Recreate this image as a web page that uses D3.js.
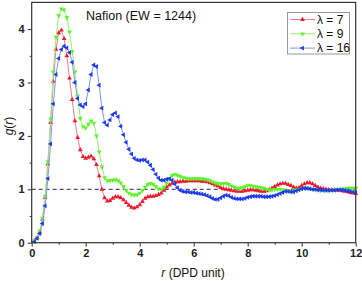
<!DOCTYPE html>
<html><head><meta charset="utf-8">
<script src="https://cdn.jsdelivr.net/npm/d3@7"></script>
<style>body{margin:0;background:#fff}svg{display:block}text{font-family:"Liberation Sans",Arial,sans-serif}</style>
</head><body>
<script>
const rValues = [0.1,0.2,0.3,0.4,0.5,0.6,0.7,0.8,0.9,1.0,1.1,1.2,1.3,1.4,1.5,1.6,1.7,1.8,1.9,2.0,
2.1,2.2,2.3,2.4,2.5,2.6,2.7,2.8,2.9,3.0,3.1,3.2,3.3,3.4,3.5,3.6,3.7,3.8,3.9,4.0,
4.1,4.2,4.3,4.4,4.5,4.6,4.7,4.8,4.9,5.0,5.1,5.2,5.3,5.4,5.5,5.6,5.7,5.8,5.9,6.0,
6.1,6.2,6.3,6.4,6.5,6.6,6.7,6.8,6.9,7.0,7.1,7.2,7.3,7.4,7.5,7.6,7.7,7.8,7.9,8.0,
8.1,8.2,8.3,8.4,8.5,8.6,8.7,8.8,8.9,9.0,9.1,9.2,9.3,9.4,9.5,9.6,9.7,9.8,9.9,10.0,
10.1,10.2,10.3,10.4,10.5,10.6,10.7,10.8,10.9,11.0,11.1,11.2,11.3,11.4,11.5,11.6,11.7,11.8,11.9,12.0];

const gLambda7 = [0.03,0.09,0.2,0.44,0.85,1.47,2.25,3.02,3.62,3.93,3.98,3.82,3.5,3.08,2.68,2.28,1.97,1.74,1.61,1.58,
1.6,1.62,1.57,1.46,1.25,1.0,0.84,0.78,0.79,0.83,0.86,0.86,0.84,0.8,0.75,0.7,0.66,0.65,0.67,0.71,
0.77,0.83,0.86,0.87,0.87,0.88,0.9,0.93,0.98,1.04,1.08,1.11,1.13,1.14,1.14,1.15,1.15,1.16,1.16,1.16,
1.16,1.16,1.15,1.15,1.14,1.12,1.1,1.08,1.06,1.03,1.01,1.0,0.99,0.98,0.97,0.96,0.96,0.96,0.97,0.98,
0.99,0.99,0.98,0.97,0.96,0.96,0.97,0.99,1.02,1.05,1.08,1.1,1.11,1.11,1.09,1.07,1.04,1.02,1.03,1.07,
1.1,1.12,1.12,1.1,1.07,1.04,1.02,1.01,1.0,0.99,0.99,0.99,0.98,0.98,0.97,0.96,0.95,0.94,0.93,0.92];

const gLambda9 = [0.03,0.1,0.22,0.46,0.87,1.52,2.32,3.2,3.85,4.25,4.38,4.36,4.22,3.95,3.58,3.2,2.75,2.33,2.17,2.15,
2.22,2.28,2.24,2.0,1.7,1.42,1.22,1.16,1.16,1.17,1.18,1.16,1.12,1.05,0.98,0.93,0.9,0.89,0.9,0.93,
0.98,1.04,1.09,1.11,1.09,1.05,1.01,1.0,1.04,1.12,1.2,1.26,1.28,1.26,1.24,1.22,1.21,1.2,1.2,1.2,
1.2,1.2,1.2,1.19,1.18,1.16,1.14,1.12,1.11,1.1,1.11,1.11,1.09,1.06,1.04,1.02,1.02,1.03,1.05,1.07,
1.07,1.06,1.05,1.04,1.03,1.02,1.0,0.99,0.99,1.0,1.0,1.0,0.99,0.98,0.97,0.96,0.97,0.99,1.0,1.01,
1.02,1.02,1.01,1.0,0.99,0.98,0.98,0.98,0.98,0.98,0.99,1.0,1.0,1.0,1.01,1.01,1.02,1.02,1.02,1.02];

const gLambda16 = [0.02,0.08,0.17,0.36,0.69,1.2,1.85,2.6,3.15,3.45,3.62,3.68,3.65,3.56,3.38,3.0,2.7,2.58,2.55,2.6,
2.86,3.15,3.33,3.3,2.95,2.52,2.25,2.2,2.3,2.4,2.43,2.36,2.18,2.02,1.88,1.75,1.66,1.58,1.55,1.54,
1.55,1.55,1.51,1.45,1.37,1.28,1.21,1.17,1.17,1.19,1.2,1.17,1.1,1.03,0.98,0.96,0.95,0.95,0.94,0.94,
0.93,0.92,0.91,0.9,0.88,0.86,0.83,0.81,0.81,0.84,0.87,0.89,0.88,0.85,0.83,0.82,0.82,0.82,0.83,0.85,
0.86,0.87,0.87,0.87,0.87,0.86,0.86,0.86,0.87,0.88,0.9,0.92,0.94,0.96,0.96,0.95,0.95,0.97,0.99,1.01,
1.02,1.02,1.01,1.0,1.0,0.99,0.99,0.98,0.98,0.98,0.98,0.98,0.99,0.99,0.99,0.98,0.97,0.96,0.95,0.94];

const seriesNames = ["λ = 7", "λ = 9", "λ = 16"];
const xTicks = [0, 2, 4, 6, 8, 10, 12];
const yTicks = [0, 1, 2, 3, 4];
const titleText = "Nafion (EW = 1244)";

const W = 362, H = 281;
const mLeft = 31.7, mRight = 355.7, mTop = 2.4, mBottom = 242.7;
const svg = d3.select("body").append("svg").attr("width", W).attr("height", H);

const x = d3.scaleLinear().domain([0, 12]).range([mLeft, mRight]);
const y = d3.scaleLinear().domain([0, 4.5]).range([mBottom, mTop]);

const styles = [
  {marker: "#ee1b2c", line: "#f07a92", rot: 0},
  {marker: "#5cf52a", line: "#96ee74", rot: 180},
  {marker: "#1f3af0", line: "#8595f0", rot: -90}
];
const allSeries = [gLambda7, gLambda9, gLambda16];

// dashed reference line at g = 1
svg.append("line").attr("x1", x(0)).attr("x2", x(12)).attr("y1", y(1)).attr("y2", y(1))
  .attr("stroke", "#1d2a5a").attr("stroke-width", 1).attr("stroke-dasharray", "4,3");

const tri = d3.symbol().type(d3.symbolTriangle).size(10);
const lineGen = d3.line().x((d, i) => x(rValues[i])).y(d => y(d));

allSeries.forEach((vals, k) => {
  const st = styles[k];
  const g = svg.append("g");
  g.append("path").attr("d", lineGen(vals)).attr("fill", "none")
    .attr("stroke", st.line).attr("stroke-width", 1);
  g.selectAll("path.m").data(vals).join("path").attr("class", "m")
    .attr("d", tri)
    .attr("transform", (d, i) => `translate(${x(rValues[i])},${y(d)}) rotate(${st.rot})`)
    .attr("fill", st.marker);
});

// axes frame
svg.append("rect").attr("x", mLeft).attr("y", mTop).attr("width", mRight - mLeft).attr("height", mBottom - mTop)
  .attr("fill", "none").attr("stroke", "#333").attr("stroke-width", 1.2);

const xAxis = d3.axisBottom(x).tickValues(xTicks).tickSize(4).tickPadding(3).tickFormat(d3.format("d"));
const xMinor = d3.axisBottom(x).tickValues([1,3,5,7,9,11]).tickSize(2).tickFormat("");
const yAxis = d3.axisLeft(y).tickValues(yTicks).tickSize(4).tickPadding(3).tickFormat(d3.format("d"));
const yMinor = d3.axisLeft(y).tickValues([0.5,1.5,2.5,3.5]).tickSize(2).tickFormat("");

function styleAxis(sel) {
  sel.select(".domain").remove();
  sel.selectAll("line").attr("stroke", "#333");
  sel.selectAll("text").attr("font-size", 11).attr("font-weight", "bold").attr("fill", "#222")
    .attr("font-family", "Liberation Sans, Arial, sans-serif");
}
svg.append("g").attr("transform", `translate(0,${mBottom})`).call(xAxis).call(styleAxis);
svg.append("g").attr("transform", `translate(0,${mBottom})`).call(xMinor).call(styleAxis);
svg.append("g").attr("transform", `translate(${mLeft},0)`).call(yAxis).call(styleAxis);
svg.append("g").attr("transform", `translate(${mLeft},0)`).call(yMinor).call(styleAxis);

// title
svg.append("text").attr("x", 86).attr("y", 20).attr("font-size", 12.5).attr("fill", "#111").text(titleText);

// axis labels
const xl = svg.append("text").attr("x", 193).attr("y", 277).attr("text-anchor", "middle")
  .attr("font-size", 12).attr("fill", "#111");
xl.append("tspan").attr("font-style", "italic").text("r");
xl.append("tspan").text(" (DPD unit)");

const yl = svg.append("text").attr("transform", "translate(13,126) rotate(-90)").attr("text-anchor", "middle")
  .attr("font-size", 12).attr("fill", "#111");
yl.append("tspan").attr("font-style", "italic").text("g");
yl.append("tspan").text("(");
yl.append("tspan").attr("font-style", "italic").text("r");
yl.append("tspan").text(")");

// legend
const lg = svg.append("g");
lg.append("rect").attr("x", 287.5).attr("y", 12.5).attr("width", 62).attr("height", 41.5)
  .attr("fill", "#fff").attr("stroke", "#999").attr("stroke-width", 1);
seriesNames.forEach((name, k) => {
  const st = styles[k];
  const yy = 19.5 + k * 14.3;
  lg.append("line").attr("x1", 290).attr("x2", 315).attr("y1", yy).attr("y2", yy)
    .attr("stroke", st.line).attr("stroke-width", 1);
  lg.append("path").attr("d", tri).attr("transform", `translate(302.5,${yy}) rotate(${st.rot})`)
    .attr("fill", st.marker);
  lg.append("text").attr("x", 317).attr("y", yy + 4.3).attr("font-size", 12).attr("fill", "#111").text(name);
});
</script>
</body></html>
